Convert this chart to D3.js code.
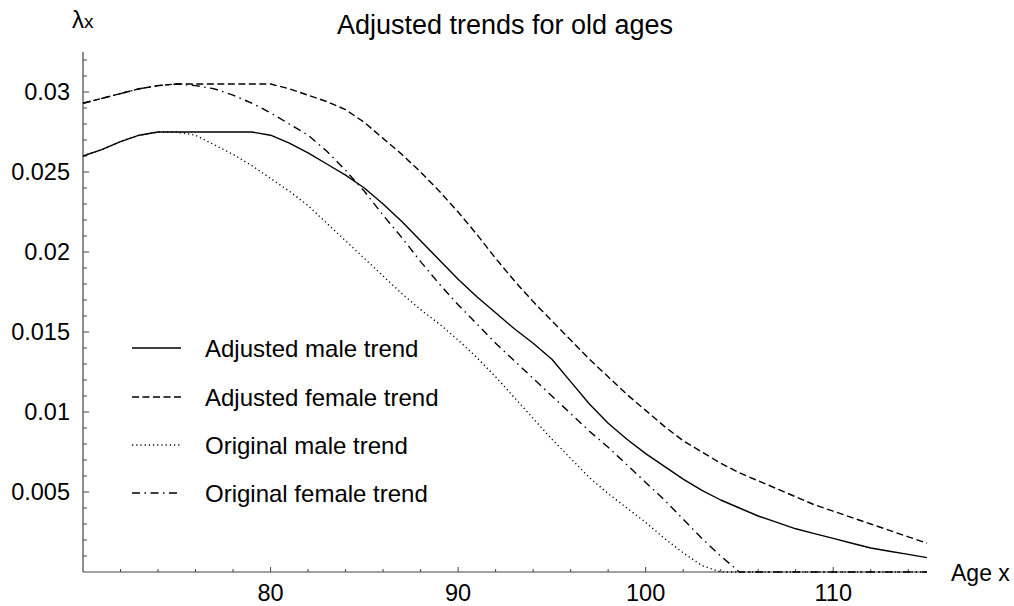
<!DOCTYPE html>
<html>
<head>
<meta charset="utf-8">
<script src="https://cdn.jsdelivr.net/npm/d3@7"></script>
<style>
  html, body { margin: 0; padding: 0; background: #fff; }
  svg { display: block; }
  text { font-family: "Liberation Sans", Arial, Helvetica, sans-serif; fill: #000; }
</style>
</head>
<body>
<svg id="chart" width="1014" height="606"></svg>
<script>
// Ages 70..115, one value per year
const ages = d3.range(70, 116);

const adjustedMale = [
  0.0260, 0.0264, 0.0269, 0.0273, 0.0275, 0.0275, 0.0275, 0.0275, 0.0275, 0.0275,
  0.0273, 0.0268, 0.0262, 0.0255, 0.0248, 0.0240, 0.0230, 0.0219, 0.0207, 0.0195,
  0.0183, 0.0172, 0.0162, 0.0152, 0.0143, 0.0133, 0.0119, 0.0105, 0.0093, 0.0083,
  0.0074, 0.0066, 0.0058, 0.0051, 0.0045, 0.0040, 0.0035, 0.0031, 0.0027, 0.0024,
  0.0021, 0.0018, 0.0015, 0.0013, 0.0011, 0.0009
];
const adjustedFemale = [
  0.0293, 0.0296, 0.0299, 0.0302, 0.0304, 0.0305, 0.0305, 0.0305, 0.0305, 0.0305,
  0.0305, 0.0302, 0.0298, 0.0294, 0.0289, 0.0281, 0.0271, 0.0261, 0.0250, 0.0238,
  0.0225, 0.0211, 0.0196, 0.0182, 0.0169, 0.0157, 0.0145, 0.0133, 0.0122, 0.0111,
  0.0101, 0.0091, 0.0082, 0.0075, 0.0068, 0.0062, 0.0057, 0.0052, 0.0047, 0.0042,
  0.0038, 0.0034, 0.0030, 0.0026, 0.0022, 0.0018
];
const originalMale = [
  0.0260, 0.0264, 0.0269, 0.0273, 0.0275, 0.0275, 0.0273, 0.0267, 0.0261, 0.0254,
  0.0246, 0.0238, 0.0229, 0.0218, 0.0207, 0.0196, 0.0185, 0.0174, 0.0164, 0.0155,
  0.0145, 0.0134, 0.0122, 0.0109, 0.0096, 0.0083, 0.0071, 0.0059, 0.0049, 0.0040,
  0.0031, 0.0021, 0.0012, 0.0004, 0.0000, 0.0000, 0.0000, 0.0000, 0.0000, 0.0000,
  0.0000, 0.0000, 0.0000, 0.0000, 0.0000, 0.0000
];
const originalFemale = [
  0.0293, 0.0296, 0.0299, 0.0302, 0.0304, 0.0305, 0.0304, 0.0302, 0.0298, 0.0293,
  0.0287, 0.0280, 0.0273, 0.0263, 0.0251, 0.0238, 0.0223, 0.0209, 0.0194, 0.0180,
  0.0167, 0.0155, 0.0143, 0.0132, 0.0121, 0.0110, 0.0099, 0.0088, 0.0078, 0.0067,
  0.0056, 0.0045, 0.0033, 0.0021, 0.0010, 0.0000, 0.0000, 0.0000, 0.0000, 0.0000,
  0.0000, 0.0000, 0.0000, 0.0000, 0.0000, 0.0000
];

const seriesNames = ["Adjusted male trend", "Adjusted female trend", "Original male trend", "Original female trend"];
const xMajorTicks = [80, 90, 100, 110];
const yMajorTicks = [0.005, 0.01, 0.015, 0.02, 0.025, 0.03];
const yTickLabels = ["0.005", "0.01", "0.015", "0.02", "0.025", "0.03"];
const titleText = "Adjusted trends for old ages";
const xAxisLabel = "Age x";

const series = [
  { name: seriesNames[0], values: adjustedMale,   dash: null },
  { name: seriesNames[1], values: adjustedFemale, dash: "7,3.5" },
  { name: seriesNames[2], values: originalMale,   dash: "1.2,3" },
  { name: seriesNames[3], values: originalFemale, dash: "8,4.5,1.5,4.5" }
];

const svg = d3.select("#chart");

const x = d3.scaleLinear().domain([70, 115]).range([83, 927]);
const y = d3.scaleLinear().domain([0, 0.0325]).range([572, 52]);

const axisColor = "#444";

// Y axis: line, minor ticks every 0.001, major ticks every 0.005
const yAxisG = svg.append("g");
yAxisG.append("line")
  .attr("x1", x(70)).attr("x2", x(70))
  .attr("y1", y(0)).attr("y2", y(0.0325))
  .attr("stroke", axisColor).attr("stroke-width", 1.2);
const yMinor = d3.range(1, 33).map(d => d / 1000);
yAxisG.selectAll("line.minor").data(yMinor).enter().append("line")
  .attr("class", "minor")
  .attr("x1", x(70)).attr("x2", d => x(70) + (Math.abs(d * 200 - Math.round(d * 200)) < 1e-6 ? 6 : 4))
  .attr("y1", d => y(d)).attr("y2", d => y(d))
  .attr("stroke", axisColor).attr("stroke-width", 1);
yAxisG.selectAll("text").data(yMajorTicks).enter().append("text")
  .attr("x", x(70) - 13)
  .attr("y", d => y(d))
  .attr("dy", "0.36em")
  .attr("text-anchor", "end")
  .attr("font-size", 23.5)
  .text((d, i) => yTickLabels[i]);

// X axis: line, minor ticks every 2 years, major every 10
const xAxisG = svg.append("g");
xAxisG.append("line")
  .attr("x1", x(70)).attr("x2", x(115))
  .attr("y1", y(0)).attr("y2", y(0))
  .attr("stroke", axisColor).attr("stroke-width", 1.2);
const xMinor = d3.range(72, 116, 2);
xAxisG.selectAll("line.minor").data(xMinor).enter().append("line")
  .attr("x1", d => x(d)).attr("x2", d => x(d))
  .attr("y1", y(0)).attr("y2", d => y(0) - (d % 10 === 0 ? 5 : 3))
  .attr("stroke", axisColor).attr("stroke-width", 1);
xAxisG.selectAll("text").data(xMajorTicks).enter().append("text")
  .attr("x", d => x(d))
  .attr("y", 601)
  .attr("text-anchor", "middle")
  .attr("font-size", 23.5)
  .text(d => d);

// Trend lines
const line = d3.line()
  .x((d, i) => x(ages[i]))
  .y(d => y(d));

svg.append("g").selectAll("path").data(series).enter().append("path")
  .attr("d", d => line(d.values))
  .attr("fill", "none")
  .attr("stroke", "#000")
  .attr("stroke-width", 1.4)
  .attr("stroke-linejoin", "round")
  .attr("stroke-dasharray", d => d.dash);

// Legend
const legend = svg.append("g");
const legendY = [348, 397, 445, 493];
series.forEach((s, i) => {
  legend.append("line")
    .attr("x1", 132).attr("x2", 181)
    .attr("y1", legendY[i]).attr("y2", legendY[i])
    .attr("stroke", "#000").attr("stroke-width", 1.4)
    .attr("stroke-dasharray", s.dash);
  legend.append("text")
    .attr("x", 205).attr("y", legendY[i])
    .attr("dy", "0.36em")
    .attr("font-size", 24)
    .text(s.name);
});

// Title and axis labels
svg.append("text")
  .attr("x", 505).attr("y", 34)
  .attr("text-anchor", "middle")
  .attr("font-size", 27)
  .text(titleText);

svg.append("text")
  .attr("x", 951).attr("y", 581)
  .attr("font-size", 23)
  .text(xAxisLabel);

const lam = svg.append("text")
  .attr("x", 72).attr("y", 28)
  .attr("font-size", 24);
lam.append("tspan").text("λ");
lam.append("tspan").attr("font-size", 19).text("x");
</script>
</body>
</html>
